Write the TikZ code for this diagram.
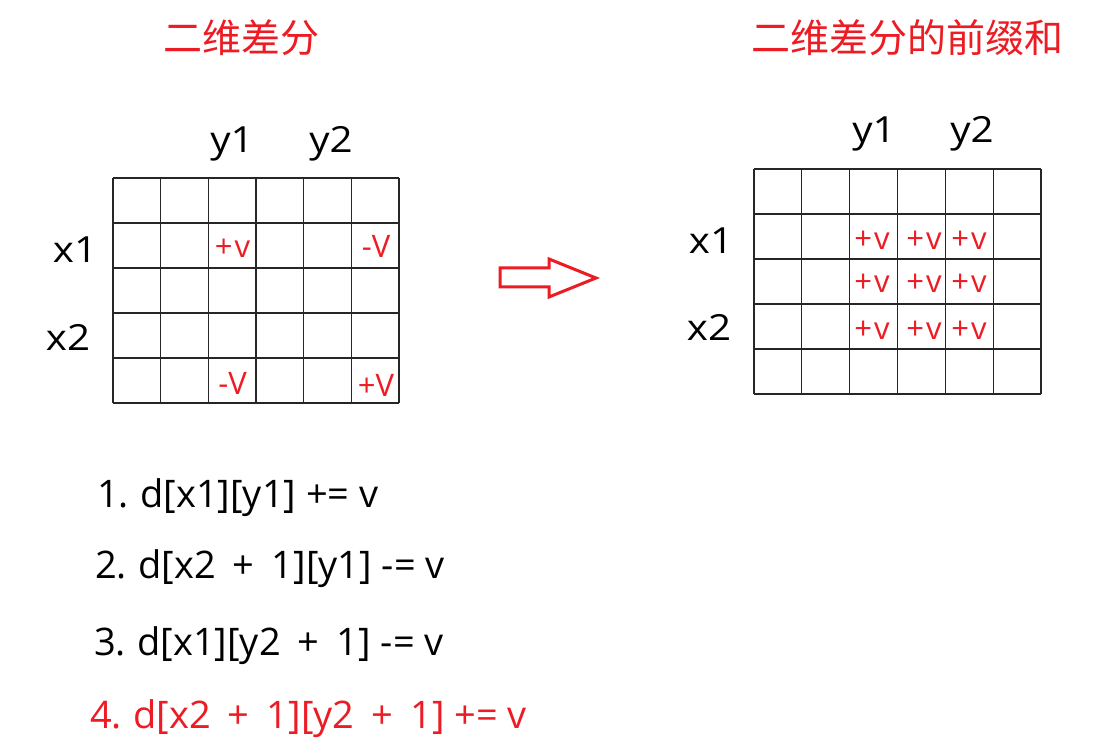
\documentclass[tikz,border=0pt]{standalone}
\usepackage{fontspec}
\setmainfont{Open Sans}
\newfontfamily\cjk{Noto Sans CJK SC}
\definecolor{myred}{RGB}{237,28,36}
\newcommand{\wide}[1]{\scalebox{1.12}[1]{#1}}
\newcommand{\pl}{\hspace{0.45em}+\hspace{0.45em}}
\newcommand{\nd}{\hspace{0.3em}}
\begin{document}
\begin{tikzpicture}[x=1pt,y=-1pt,
  title/.style={font=\cjk\fontsize{39}{44}\selectfont, text=myred, inner sep=0pt},
  axis/.style={font=\fontsize{36}{40}\selectfont, inner sep=0pt, anchor=base},
  val/.style={font=\fontsize{31}{34}\selectfont, text=myred, inner sep=0pt, anchor=base},
  item/.style={font=\fontsize{38}{44}\selectfont, inner sep=0pt, anchor=base west},
  gridline/.style={draw=black!85, line width=1.1pt}]
\useasboundingbox (0,0) rectangle (1111,743);
\fill[white] (0,0) rectangle (1111,743);
% titles
\node[title] (t1) at (241,38) {二维差分};
\node[title] (t2) at (907,38) {二维差分的前缀和};
% left grid
\foreach \i in {0,...,6} {\draw[gridline] ({113+\i*47.67},178) -- ({113+\i*47.67},403);}
\foreach \j in {0,...,5} {\draw[gridline] (113,{178+\j*45}) -- (399,{178+\j*45});}
\node[axis] (ly1) at (232,153) {\wide{y1}};
\node[axis] (ly2) at (331,153) {\wide{y2}};
\node[axis] (lx1) at (75,263) {\wide{x1}};
\node[axis] (lx2) at (68,350) {\wide{x2}};
\node[val] (a1) at (232.5,258) {+\kern2pt v};
\node[val] (a2) at (376,258) {-V};
\node[val] (a3) at (232.5,394) {-V};
\node[val] (a4) at (376,396) {+V};
% arrow
\draw[myred, line width=3pt, fill=white, line join=miter]
  (500,268) -- (549,268) -- (549,259) -- (596,278) -- (549,297) -- (549,287) -- (500,287) -- cycle;
% right grid
\foreach \i in {0,...,6} {\draw[gridline] ({754+\i*47.83},169) -- ({754+\i*47.83},394);}
\foreach \j in {0,...,5} {\draw[gridline] (754,{169+\j*45}) -- (1041,{169+\j*45});}
\node[axis] (ry1) at (874,143) {\wide{y1}};
\node[axis] (ry2) at (972,143) {\wide{y2}};
\node[axis] (rx1) at (711,254) {\wide{x1}};
\node[axis] (rx2) at (709,340) {\wide{x2}};
\foreach \r/\b in {1/250,2/293,3/339} {
  \node[val] (p\r a) at (872,\b) {+\kern2pt v};
  \node[val] (p\r b) at (924,\b) {+\kern2pt v};
  \node[val] (p\r c) at (969,\b) {+\kern2pt v};
}
% list
\node[item] (l1) at (97,507) {1.\nd d[x1][y1] += v};
\node[item] (l2) at (95,578) {2.\nd d[x2\pl 1][y1] -= v};
\node[item] (l3) at (94,655) {3.\nd d[x1][y2\pl 1] -= v};
\node[item, text=myred] (l4) at (90,728) {4.\nd d[x2\pl 1][y2\pl 1] += v};
\end{tikzpicture}
\end{document}
